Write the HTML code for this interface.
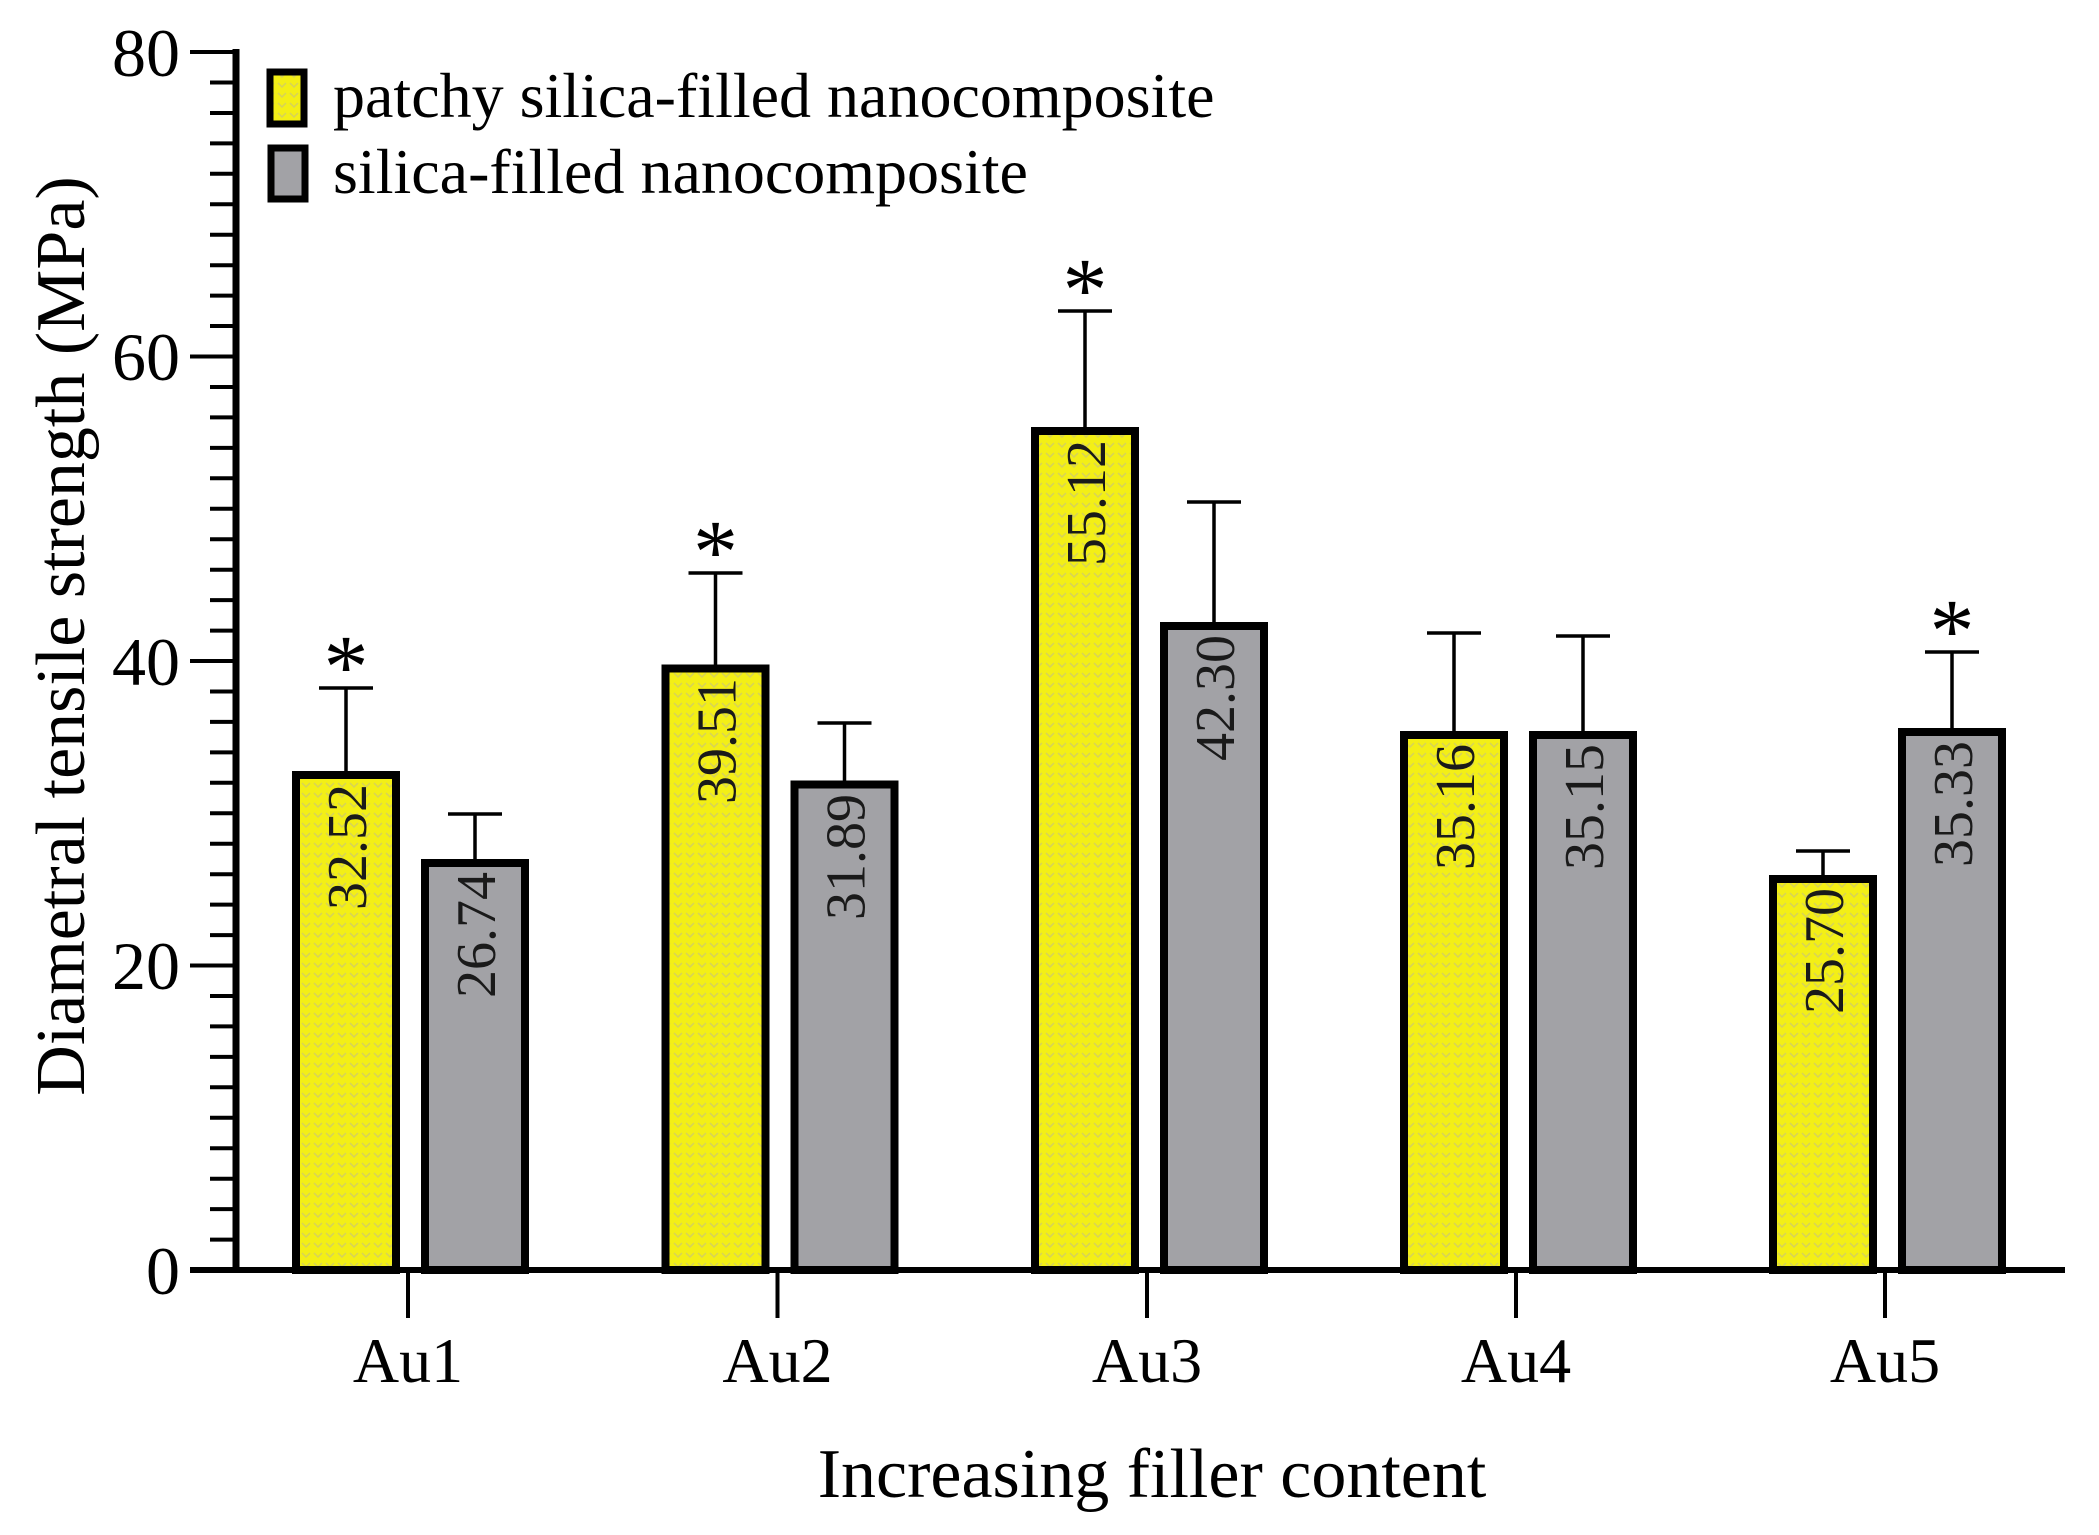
<!DOCTYPE html>
<html><head><meta charset="utf-8"><style>
html,body{margin:0;padding:0;background:#fff;}
svg{display:block;}
text{font-family:"Liberation Serif",serif;}
</style></head><body>
<svg width="2099" height="1535" viewBox="0 0 2099 1535" xmlns="http://www.w3.org/2000/svg">
<defs>
<pattern id="yp" width="12" height="10" patternUnits="userSpaceOnUse">
<rect width="12" height="10" fill="#f3ef16"/>
<path d="M2 3 L6 7 L10 3" stroke="#d6d25a" stroke-width="1.5" fill="none"/>
</pattern>
</defs>
<!-- y axis -->
<line x1="236" y1="49" x2="236" y2="1273" stroke="#000" stroke-width="7"/>
<g stroke="#000" stroke-width="4">
<line x1="190" y1="52" x2="236" y2="52"/>
<line x1="190" y1="356.5" x2="236" y2="356.5"/>
<line x1="190" y1="661" x2="236" y2="661"/>
<line x1="190" y1="965.5" x2="236" y2="965.5"/>
<line x1="210" y1="82.5" x2="236" y2="82.5"/><line x1="210" y1="113" x2="236" y2="113"/><line x1="210" y1="143.4" x2="236" y2="143.4"/><line x1="210" y1="173.8" x2="236" y2="173.8"/><line x1="210" y1="204.3" x2="236" y2="204.3"/><line x1="210" y1="234.7" x2="236" y2="234.7"/><line x1="210" y1="265.2" x2="236" y2="265.2"/><line x1="210" y1="295.6" x2="236" y2="295.6"/><line x1="210" y1="326" x2="236" y2="326"/>
<line x1="210" y1="387" x2="236" y2="387"/><line x1="210" y1="417.4" x2="236" y2="417.4"/><line x1="210" y1="447.9" x2="236" y2="447.9"/><line x1="210" y1="478.3" x2="236" y2="478.3"/><line x1="210" y1="508.8" x2="236" y2="508.8"/><line x1="210" y1="539.2" x2="236" y2="539.2"/><line x1="210" y1="569.7" x2="236" y2="569.7"/><line x1="210" y1="600.1" x2="236" y2="600.1"/><line x1="210" y1="630.6" x2="236" y2="630.6"/>
<line x1="210" y1="691.5" x2="236" y2="691.5"/><line x1="210" y1="721.9" x2="236" y2="721.9"/><line x1="210" y1="752.4" x2="236" y2="752.4"/><line x1="210" y1="782.8" x2="236" y2="782.8"/><line x1="210" y1="813.3" x2="236" y2="813.3"/><line x1="210" y1="843.7" x2="236" y2="843.7"/><line x1="210" y1="874.2" x2="236" y2="874.2"/><line x1="210" y1="904.6" x2="236" y2="904.6"/><line x1="210" y1="935.1" x2="236" y2="935.1"/>
<line x1="210" y1="996" x2="236" y2="996"/><line x1="210" y1="1026.4" x2="236" y2="1026.4"/><line x1="210" y1="1056.9" x2="236" y2="1056.9"/><line x1="210" y1="1087.3" x2="236" y2="1087.3"/><line x1="210" y1="1117.8" x2="236" y2="1117.8"/><line x1="210" y1="1148.2" x2="236" y2="1148.2"/><line x1="210" y1="1178.7" x2="236" y2="1178.7"/><line x1="210" y1="1209.1" x2="236" y2="1209.1"/><line x1="210" y1="1239.6" x2="236" y2="1239.6"/>
</g>
<g font-size="68" text-anchor="end" fill="#000">
<text x="180" y="76">80</text>
<text x="180" y="380">60</text>
<text x="180" y="685">40</text>
<text x="180" y="989">20</text>
<text x="180" y="1294">0</text>
</g>
<text transform="translate(84,636) rotate(-90)" font-size="70" text-anchor="middle">Diametral tensile strength (MPa)</text>

<!-- error bars -->
<g stroke="#000" stroke-width="3.5">
<line x1="346" y1="775" x2="346" y2="688"/><line x1="319" y1="688" x2="373" y2="688"/>
<line x1="475" y1="863" x2="475" y2="814"/><line x1="448" y1="814" x2="502" y2="814"/>
<line x1="715.5" y1="668" x2="715.5" y2="573"/><line x1="688.5" y1="573" x2="742.5" y2="573"/>
<line x1="844.5" y1="784" x2="844.5" y2="723"/><line x1="817.5" y1="723" x2="871.5" y2="723"/>
<line x1="1085" y1="431" x2="1085" y2="311"/><line x1="1058" y1="311" x2="1112" y2="311"/>
<line x1="1214" y1="626" x2="1214" y2="502"/><line x1="1187" y1="502" x2="1241" y2="502"/>
<line x1="1454" y1="735" x2="1454" y2="633"/><line x1="1427" y1="633" x2="1481" y2="633"/>
<line x1="1583" y1="735" x2="1583" y2="636"/><line x1="1556" y1="636" x2="1610" y2="636"/>
<line x1="1823" y1="879" x2="1823" y2="851"/><line x1="1796" y1="851" x2="1850" y2="851"/>
<line x1="1952" y1="732" x2="1952" y2="652"/><line x1="1925" y1="652" x2="1979" y2="652"/>
</g>
<!-- bars -->
<g stroke="#000" stroke-width="8">
<rect x="296" y="775" width="100" height="495" fill="url(#yp)"/>
<rect x="425" y="863" width="100" height="407" fill="#a2a2a6"/>
<rect x="665.5" y="668.5" width="100" height="601.5" fill="url(#yp)"/>
<rect x="794.5" y="784.5" width="100" height="485.5" fill="#a2a2a6"/>
<rect x="1035" y="431" width="100" height="839" fill="url(#yp)"/>
<rect x="1164" y="626" width="100" height="644" fill="#a2a2a6"/>
<rect x="1404" y="735" width="100" height="535" fill="url(#yp)"/>
<rect x="1533" y="735" width="100" height="535" fill="#a2a2a6"/>
<rect x="1773" y="879" width="100" height="391" fill="url(#yp)"/>
<rect x="1902" y="732" width="100" height="538" fill="#a2a2a6"/>
</g>
<!-- value labels -->
<g font-size="56" fill="#1a1a1a" text-anchor="end">
<text transform="translate(366,784) rotate(-90)">32.52</text>
<text transform="translate(495,872) rotate(-90)">26.74</text>
<text transform="translate(735.5,678) rotate(-90)">39.51</text>
<text transform="translate(864.5,794) rotate(-90)">31.89</text>
<text transform="translate(1105,440) rotate(-90)">55.12</text>
<text transform="translate(1234,635) rotate(-90)">42.30</text>
<text transform="translate(1474,744) rotate(-90)">35.16</text>
<text transform="translate(1603,744) rotate(-90)">35.15</text>
<text transform="translate(1843,888) rotate(-90)">25.70</text>
<text transform="translate(1972,741) rotate(-90)">35.33</text>
</g>
<!-- asterisks -->
<g font-size="90" text-anchor="middle" fill="#000">
<text x="346" y="697">*</text>
<text x="715.5" y="582">*</text>
<text x="1085" y="320">*</text>
<text x="1952" y="661">*</text>
</g>
<!-- x axis -->
<line x1="190" y1="1270" x2="2065" y2="1270" stroke="#000" stroke-width="6"/>
<g stroke="#000" stroke-width="4">
<line x1="408" y1="1270" x2="408" y2="1318"/>
<line x1="777.5" y1="1270" x2="777.5" y2="1318"/>
<line x1="1147" y1="1270" x2="1147" y2="1318"/>
<line x1="1516" y1="1270" x2="1516" y2="1318"/>
<line x1="1885" y1="1270" x2="1885" y2="1318"/>
</g>
<g font-size="64" text-anchor="middle" fill="#000">
<text x="408" y="1382">Au1</text>
<text x="777.5" y="1382">Au2</text>
<text x="1147" y="1382">Au3</text>
<text x="1516" y="1382">Au4</text>
<text x="1885" y="1382">Au5</text>
</g>
<text x="1152" y="1497" font-size="70" text-anchor="middle">Increasing filler content</text>
<!-- legend -->
<rect x="270" y="72" width="34" height="52" fill="url(#yp)" stroke="#000" stroke-width="7"/>
<rect x="271" y="148" width="34" height="51" fill="#a2a2a6" stroke="#000" stroke-width="7"/>
<g font-size="64" fill="#000">
<text x="333" y="117">patchy silica-filled nanocomposite</text>
<text x="333" y="193">silica-filled nanocomposite</text>
</g>
</svg>
</body></html>
